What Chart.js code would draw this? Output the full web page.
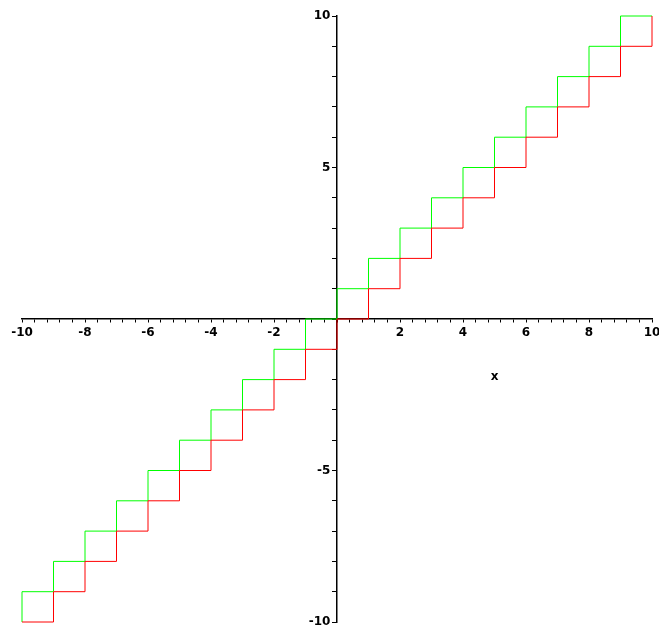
<!DOCTYPE html>
<html>
<head>
<meta charset="utf-8">
<script src="https://cdn.jsdelivr.net/npm/chart.js@4/dist/chart.umd.min.js"></script>
<style>
  body { margin: 0; background: #fff; }
  canvas { display: block; }
</style>
</head>
<body>
<canvas id="grafico" width="659" height="631"></canvas>
<script>
const xValues = [-10, -9, -8, -7, -6, -5, -4, -3, -2, -1, 0, 1, 2, 3, 4, 5, 6, 7, 8, 9, 10];
const floorValues = [-10, -9, -8, -7, -6, -5, -4, -3, -2, -1, 0, 1, 2, 3, 4, 5, 6, 7, 8, 9, 10];
const ceilValues = [-10, -9, -8, -7, -6, -5, -4, -3, -2, -1, 0, 1, 2, 3, 4, 5, 6, 7, 8, 9, 10];
const xTickLabels = [-10, -8, -6, -4, -2, 2, 4, 6, 8, 10];
const yTickLabels = [-10, -5, 5, 10];

const ctx = document.getElementById('grafico');
const tickFont = { family: 'DejaVu Sans', size: 12, weight: 'bold' };

// axis name "x" sits below the axis, right of centre
const axisTitle = {
    id: 'axisTitle',
    afterDraw(chart) {
        const c = chart.ctx;
        c.save();
        c.font = 'bold 12px "DejaVu Sans"';
        c.fillStyle = '#000';
        c.textAlign = 'center';
        c.textBaseline = 'middle';
        c.fillText('x', chart.scales.x.getPixelForValue(5), chart.scales.y.getPixelForValue(-1.9));
        c.restore();
    }
};

const isLabel = (v, list) => list.some(t => Math.abs(t - v) < 1e-6);

const myChart = new Chart(ctx, {
    type: 'line',
    data: {
        datasets: [{
            label: 'floor(x)',
            data: xValues.map((x, i) => ({ x: x, y: floorValues[i] })),
            borderColor: '#ff0000',
            borderWidth: 1,
            pointRadius: 0,
            stepped: 'before',
            clip: 4
        }, {
            label: 'ceil(x)',
            data: xValues.map((x, i) => ({ x: x, y: ceilValues[i] })),
            borderColor: '#00ff00',
            borderWidth: 1,
            pointRadius: 0,
            stepped: 'after',
            clip: 4
        }]
    },
    options: {
        responsive: false,
        animation: false,
        layout: { padding: { left: 22, right: 7, top: 16, bottom: 9 } },
        plugins: {
            legend: { display: false },
            tooltip: { enabled: false }
        },
        scales: {
            x: {
                type: 'linear',
                position: { y: 0 },
                min: -10,
                max: 10,
                afterFit: s => { s.height = 0; s.paddingLeft = 0; s.paddingRight = 0; },
                border: { color: '#000', width: 1.5 },
                grid: { drawOnChartArea: false, drawTicks: true, tickLength: 3, color: '#000' },
                ticks: {
                    stepSize: 0.4,
                    autoSkip: false,
                    maxRotation: 0,
                    padding: 4,
                    color: '#000',
                    font: tickFont,
                    callback: v => isLabel(v, xTickLabels) ? String(Math.round(v)) : ''
                }
            },
            y: {
                type: 'linear',
                position: { x: 0 },
                min: -10,
                max: 10,
                afterFit: s => { s.width = 0; s.paddingTop = 0; s.paddingBottom = 0; },
                border: { color: '#000', width: 1.5 },
                grid: { drawOnChartArea: false, drawTicks: true, tickLength: 4, color: '#000' },
                ticks: {
                    stepSize: 1,
                    autoSkip: false,
                    color: '#000',
                    font: tickFont,
                    // trailing space keeps the label clear of the tick mark
                    callback: v => isLabel(v, yTickLabels) ? String(Math.round(v)) + ' \u2009' : ''
                }
            }
        }
    },
    plugins: [axisTitle]
});
</script>
</body>
</html>
